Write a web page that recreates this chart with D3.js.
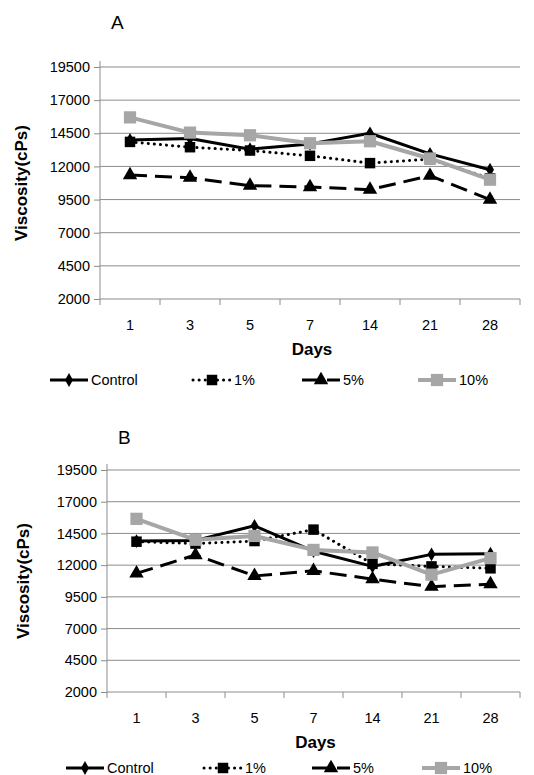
<!DOCTYPE html>
<html>
<head>
<meta charset="utf-8">
<script src="https://cdnjs.cloudflare.com/ajax/libs/d3/7.8.5/d3.min.js"></script>
<style>
  body { margin: 0; background: #fff; }
  svg text { font-family: "Liberation Sans", Arial, sans-serif; fill: #000; }
  .tick-label { font-size: 14.5px; }
  .axis-title { font-size: 17px; font-weight: bold; }
  .panel-label { font-size: 19px; }
  .legend-text { font-size: 14.5px; }
</style>
</head>
<body>
<div id="chart"></div>
<script>
// categories and ticks
const days = ['1', '3', '5', '7', '14', '21', '28'];
const yTicks = [2000, 4500, 7000, 9500, 12000, 14500, 17000, 19500];
const seriesNames = ['Control', '1%', '5%', '10%'];

// panel A values (cPs)
const controlA = [14000, 14100, 13300, 13700, 14500, 12950, 11750];
const pct1A   = [13850, 13450, 13200, 12800, 12250, 12550, 11100];
const pct5A   = [11350, 11150, 10550, 10450, 10250, 11300, 9500];
const pct10A  = [15700, 14550, 14350, 13750, 13900, 12600, 11000];

// panel B values (cPs)
const controlB = [13900, 13950, 15100, 13100, 11900, 12850, 12900];
const pct1B   = [13850, 13700, 13900, 14800, 12100, 11900, 11750];
const pct5B   = [11350, 12800, 11150, 11550, 10900, 10300, 10500];
const pct10B  = [15650, 14000, 14300, 13200, 13000, 11250, 12550];

// series styles
const styles = [
  {stroke: '#000', width: 3, dash: null, cap: 'butt', symbol: d3.symbolDiamond, size: 55, fill: '#000'},
  {stroke: '#000', width: 3, dash: '0.1 6', cap: 'round', symbol: d3.symbolSquare, size: 110, fill: '#000'},
  {stroke: '#000', width: 3, dash: '17 8', cap: 'butt', symbol: d3.symbolTriangle, size: 90, fill: '#000'},
  {stroke: '#a6a6a6', width: 4, dash: null, cap: 'butt', symbol: d3.symbolSquare, size: 150, fill: '#a6a6a6'}
];

const W = 534, H = 775;
const svg = d3.select('#chart').append('svg')
    .attr('width', W)
    .attr('height', H);

function drawPanel(cfg) {
  const g = svg.append('g');

  const x = d3.scaleBand()
      .domain(days)
      .range([cfg.left, cfg.right])
      .padding(0);

  const y = d3.scaleLinear()
      .domain([2000, 19500])
      .range([cfg.bottom, cfg.top]);

  // grid lines
  g.append('g').selectAll('line')
    .data(yTicks.slice(1))
    .join('line')
      .attr('x1', cfg.left)
      .attr('x2', cfg.right)
      .attr('y1', d => y(d))
      .attr('y2', d => y(d))
      .attr('stroke', '#8c8c8c')
      .attr('stroke-width', 1);

  // y axis
  const yAxis = g.append('g')
      .attr('transform', `translate(${cfg.left},0)`)
      .call(d3.axisLeft(y).tickValues(yTicks).tickSize(6).tickPadding(4).tickFormat(d3.format('d')));
  yAxis.select('.domain').attr('stroke', '#8c8c8c').attr('d', `M0,${cfg.bottom}V${cfg.top - 6}`);
  yAxis.selectAll('.tick line').attr('stroke', '#8c8c8c');
  yAxis.selectAll('.tick text').attr('class', 'tick-label').attr('font-size', null).attr('font-family', null);

  // x axis, ticks between categories
  const xAxis = g.append('g')
      .attr('transform', `translate(0,${cfg.bottom})`);
  xAxis.append('line')
      .attr('x1', cfg.left).attr('x2', cfg.right)
      .attr('stroke', '#8c8c8c');
  xAxis.selectAll('.xtick')
    .data(days.concat(['end']))
    .join('line')
      .attr('class', 'xtick')
      .attr('x1', (d, i) => cfg.left + i * x.bandwidth())
      .attr('x2', (d, i) => cfg.left + i * x.bandwidth())
      .attr('y1', 0).attr('y2', 6)
      .attr('stroke', '#8c8c8c');
  xAxis.selectAll('.xlabel')
    .data(days)
    .join('text')
      .attr('class', 'tick-label')
      .attr('text-anchor', 'middle')
      .attr('x', d => x(d) + x.bandwidth() / 2)
      .attr('y', 31)
      .text(d => d);

  // axis titles
  g.append('text')
      .attr('class', 'axis-title')
      .attr('text-anchor', 'middle')
      .attr('x', (cfg.left + cfg.right) / 2 + 2)
      .attr('y', cfg.bottom + 56)
      .text('Days');

  g.append('text')
      .attr('class', 'axis-title')
      .attr('text-anchor', 'middle')
      .attr('transform', `translate(${cfg.yTitleX},${(cfg.top + cfg.bottom) / 2}) rotate(-90)`)
      .text('Viscosity(cPs)');

  g.append('text')
      .attr('class', 'panel-label')
      .attr('x', cfg.labelX)
      .attr('y', cfg.labelY)
      .text(cfg.label);

  // series
  const line = d3.line()
      .x((d, i) => x(days[i]) + x.bandwidth() / 2)
      .y(d => y(d));

  cfg.series.forEach((vals, k) => {
    const s = styles[k];
    g.append('path')
        .datum(vals)
        .attr('d', line)
        .attr('fill', 'none')
        .attr('stroke', s.stroke)
        .attr('stroke-width', s.width)
        .attr('stroke-linecap', s.cap)
        .attr('stroke-linejoin', 'round')
        .attr('stroke-dasharray', s.dash);
    g.append('g').selectAll('path')
      .data(vals)
      .join('path')
        .attr('transform', (d, i) => `translate(${x(days[i]) + x.bandwidth() / 2},${y(d)})`)
        .attr('d', d3.symbol().type(s.symbol).size(s.size))
        .attr('fill', s.fill);
  });

  // legend
  const leg = g.append('g')
      .attr('transform', `translate(0,${cfg.legendY})`);
  seriesNames.forEach((name, k) => {
    const s = styles[k];
    const lx = cfg.legendX[k];
    leg.append('line')
        .attr('x1', lx).attr('x2', lx + 38)
        .attr('stroke', s.stroke)
        .attr('stroke-width', s.width)
        .attr('stroke-linecap', s.cap)
        .attr('stroke-dasharray', s.dash);
    leg.append('path')
        .attr('transform', `translate(${lx + 19},0)`)
        .attr('d', d3.symbol().type(s.symbol).size(s.size))
        .attr('fill', s.fill);
    leg.append('text')
        .attr('class', 'legend-text')
        .attr('x', lx + 41)
        .attr('y', 5)
        .text(name);
  });
}

drawPanel({
  label: 'A', labelX: 111, labelY: 29,
  left: 100, right: 520, top: 67, bottom: 299,
  yTitleX: 27,
  legendY: 380, legendX: [50, 193, 302, 418],
  series: [controlA, pct1A, pct5A, pct10A]
});

drawPanel({
  label: 'B', labelX: 118, labelY: 444,
  left: 107, right: 520, top: 470, bottom: 692,
  yTitleX: 29,
  legendY: 768, legendX: [66, 204, 312, 422],
  series: [controlB, pct1B, pct5B, pct10B]
});
</script>
</body>
</html>
